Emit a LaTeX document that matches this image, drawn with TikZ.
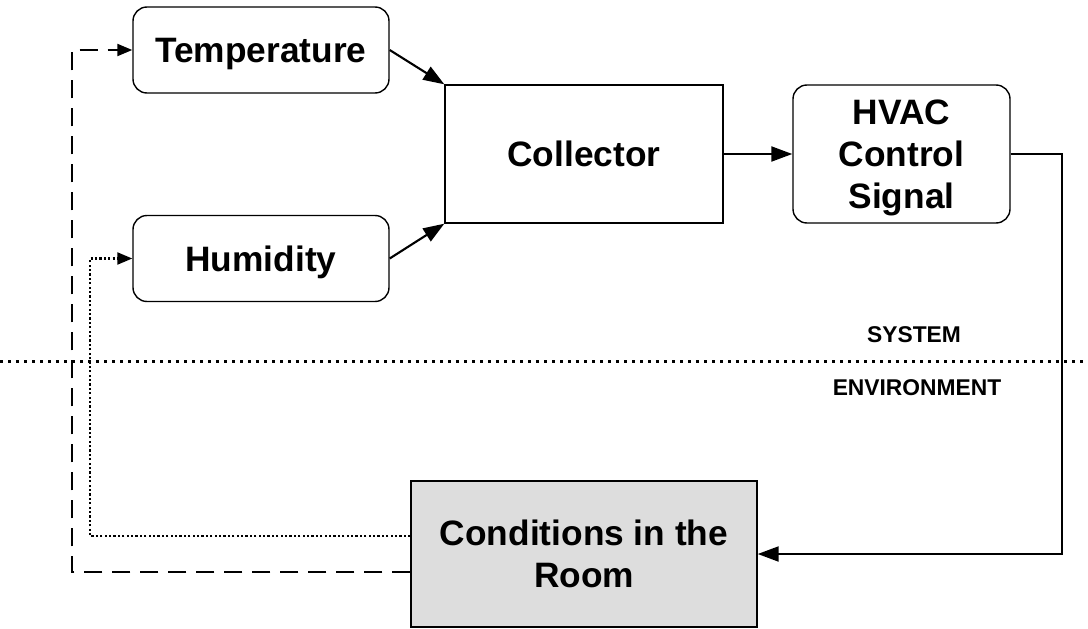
\documentclass[tikz,border=0pt]{standalone}
\usepackage{fontspec}
\setmainfont{Liberation Sans}
\usetikzlibrary{arrows.meta}
\definecolor{roomgray}{HTML}{DDDDDD}
\begin{document}
\begin{tikzpicture}[x=1pt,y=-1pt,
  box/.style={draw=black,line width=1.4pt,minimum width=256pt,minimum height=86pt,
    rounded corners=14pt,align=center,inner sep=0pt,
    font=\bfseries\fontsize{35.3}{42}\selectfont},
  squarebox/.style={box,rounded corners=0pt},
  low text/.style={text depth=0pt},
  flow/.style={line width=2.1pt,-{Triangle[length=21pt,width=15pt]}},
  feedback/.style={line width=2.1pt,-{Triangle[length=15pt,width=12pt]}},
  longdash/.style={dash pattern=on 18pt off 10pt},
  fine dots/.style={dash pattern=on 2.2pt off 2.2pt},
  zonelabel/.style={font=\bfseries\fontsize{22.8}{26}\selectfont}]
\useasboundingbox (0,0) rectangle (1088,629);

% blocks of the control loop
\node[box,low text] (temp) at (261,50) {Temperature};
\node[box,low text] (hum) at (261,258.5) {Humidity};
\node[squarebox,minimum width=278pt,minimum height=138pt] (coll) at (584,154) {Collector};
\node[box,low text,minimum width=217pt,minimum height=138pt] (hvac) at (901.5,154) {HVAC\\Control\\Signal};
\node[squarebox,fill=roomgray,minimum width=346pt,minimum height=146pt] (room) at (584,554) {Conditions in the\\Room};

% system / environment boundary
\coordinate (bl) at (0,361);
\coordinate (br) at (1088,361);
\draw[line width=3pt,dash pattern=on 3pt off 5pt] (bl) -- (br);
\node[zonelabel] (sys) at (914,335) {SYSTEM};
\node[zonelabel] (env) at (917,388) {ENVIRONMENT};

% forward path
\draw[flow] (temp.east) -- (coll.north west);
\draw[flow] (hum.east) -- (coll.south west);
\draw[flow] (coll.east) -- (hvac.west);
\coordinate (outx) at (1062,0);
\draw[flow] (hvac.east) -- (outx |- hvac.east) -- (outx |- room.east) -- (room.east);

% sensor feedback paths
\coordinate (dashx) at (72,0);
\coordinate (dotx) at (90,0);
\coordinate (dashstart) at ([yshift=-18pt]room.west);
\coordinate (dotstart) at ([yshift=18pt]room.west);
\draw[feedback,longdash] (dashstart) -- (dashx |- dashstart) -- (dashx |- temp.west) -- (temp.west);
\draw[feedback,fine dots] (dotstart) -- (dotx |- dotstart) -- (dotx |- hum.west) -- (hum.west);
\end{tikzpicture}
\end{document}
